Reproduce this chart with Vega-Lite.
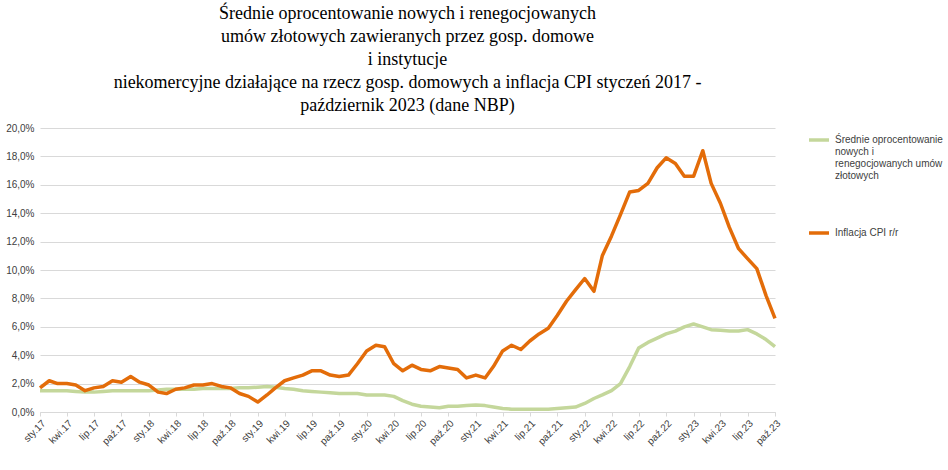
{
"$schema":"https://vega.github.io/schema/vega-lite/v6.json",
"width":735,"height":284,
"padding":{"left":5,"top":5,"right":5,"bottom":5},
"config":{"view":{"stroke":null},"font":"Liberation Sans"},
"title":{"text":["Średnie oprocentowanie nowych i renegocjowanych","umów złotowych zawieranych przez gosp. domowe","i instytucje","niekomercyjne działające na rzecz gosp. domowych a inflacja CPI styczeń 2017 -","październik 2023 (dane NBP)"],"font":"Liberation Serif","fontSize":18,"fontWeight":"normal","color":"#000","anchor":"middle","lineHeight":23,"offset":8},
"data":{"values":[
{"d":"2017-01-01","cpi":1.7,"r":1.5},{"d":"2017-02-01","cpi":2.2,"r":1.5},{"d":"2017-03-01","cpi":2.0,"r":1.5},{"d":"2017-04-01","cpi":2.0,"r":1.5},{"d":"2017-05-01","cpi":1.9,"r":1.45},{"d":"2017-06-01","cpi":1.5,"r":1.4},{"d":"2017-07-01","cpi":1.7,"r":1.4},{"d":"2017-08-01","cpi":1.8,"r":1.45},{"d":"2017-09-01","cpi":2.2,"r":1.5},{"d":"2017-10-01","cpi":2.1,"r":1.5},{"d":"2017-11-01","cpi":2.5,"r":1.5},{"d":"2017-12-01","cpi":2.1,"r":1.5},
{"d":"2018-01-01","cpi":1.9,"r":1.5},{"d":"2018-02-01","cpi":1.4,"r":1.55},{"d":"2018-03-01","cpi":1.3,"r":1.6},{"d":"2018-04-01","cpi":1.6,"r":1.6},{"d":"2018-05-01","cpi":1.7,"r":1.6},{"d":"2018-06-01","cpi":1.9,"r":1.6},{"d":"2018-07-01","cpi":1.9,"r":1.65},{"d":"2018-08-01","cpi":2.0,"r":1.65},{"d":"2018-09-01","cpi":1.8,"r":1.65},{"d":"2018-10-01","cpi":1.7,"r":1.65},{"d":"2018-11-01","cpi":1.3,"r":1.7},{"d":"2018-12-01","cpi":1.1,"r":1.7},
{"d":"2019-01-01","cpi":0.7,"r":1.75},{"d":"2019-02-01","cpi":1.2,"r":1.8},{"d":"2019-03-01","cpi":1.7,"r":1.75},{"d":"2019-04-01","cpi":2.2,"r":1.65},{"d":"2019-05-01","cpi":2.4,"r":1.6},{"d":"2019-06-01","cpi":2.6,"r":1.5},{"d":"2019-07-01","cpi":2.9,"r":1.45},{"d":"2019-08-01","cpi":2.9,"r":1.4},{"d":"2019-09-01","cpi":2.6,"r":1.35},{"d":"2019-10-01","cpi":2.5,"r":1.3},{"d":"2019-11-01","cpi":2.6,"r":1.3},{"d":"2019-12-01","cpi":3.4,"r":1.3},
{"d":"2020-01-01","cpi":4.3,"r":1.2},{"d":"2020-02-01","cpi":4.7,"r":1.2},{"d":"2020-03-01","cpi":4.6,"r":1.2},{"d":"2020-04-01","cpi":3.4,"r":1.1},{"d":"2020-05-01","cpi":2.9,"r":0.8},{"d":"2020-06-01","cpi":3.3,"r":0.55},{"d":"2020-07-01","cpi":3.0,"r":0.4},{"d":"2020-08-01","cpi":2.9,"r":0.35},{"d":"2020-09-01","cpi":3.2,"r":0.3},{"d":"2020-10-01","cpi":3.1,"r":0.4},{"d":"2020-11-01","cpi":3.0,"r":0.4},{"d":"2020-12-01","cpi":2.4,"r":0.45},
{"d":"2021-01-01","cpi":2.6,"r":0.5},{"d":"2021-02-01","cpi":2.4,"r":0.45},{"d":"2021-03-01","cpi":3.2,"r":0.35},{"d":"2021-04-01","cpi":4.3,"r":0.25},{"d":"2021-05-01","cpi":4.7,"r":0.2},{"d":"2021-06-01","cpi":4.4,"r":0.2},{"d":"2021-07-01","cpi":5.0,"r":0.2},{"d":"2021-08-01","cpi":5.5,"r":0.2},{"d":"2021-09-01","cpi":5.9,"r":0.2},{"d":"2021-10-01","cpi":6.8,"r":0.25},{"d":"2021-11-01","cpi":7.8,"r":0.3},{"d":"2021-12-01","cpi":8.6,"r":0.35},
{"d":"2022-01-01","cpi":9.4,"r":0.6},{"d":"2022-02-01","cpi":8.5,"r":0.95},{"d":"2022-03-01","cpi":11.0,"r":1.2},{"d":"2022-04-01","cpi":12.4,"r":1.5},{"d":"2022-05-01","cpi":13.9,"r":2.0},{"d":"2022-06-01","cpi":15.5,"r":3.2},{"d":"2022-07-01","cpi":15.6,"r":4.5},{"d":"2022-08-01","cpi":16.1,"r":4.9},{"d":"2022-09-01","cpi":17.2,"r":5.2},{"d":"2022-10-01","cpi":17.9,"r":5.5},{"d":"2022-11-01","cpi":17.5,"r":5.7},{"d":"2022-12-01","cpi":16.6,"r":6.0},
{"d":"2023-01-01","cpi":16.6,"r":6.2},{"d":"2023-02-01","cpi":18.4,"r":6.0},{"d":"2023-03-01","cpi":16.1,"r":5.8},{"d":"2023-04-01","cpi":14.7,"r":5.75},{"d":"2023-05-01","cpi":13.0,"r":5.7},{"d":"2023-06-01","cpi":11.5,"r":5.7},{"d":"2023-07-01","cpi":10.8,"r":5.8},{"d":"2023-08-01","cpi":10.1,"r":5.5},{"d":"2023-09-01","cpi":8.2,"r":5.1},{"d":"2023-10-01","cpi":6.6,"r":4.6}
]},
"transform":[{"fold":["r","cpi"],"as":["s","v"]}],
"mark":{"type":"line","strokeWidth":3.5,"strokeJoin":"round"},
"encoding":{
"x":{"field":"d","type":"temporal","scale":{"type":"utc","nice":false},
 "axis":{"title":null,"grid":false,"domainColor":"#d9d9d9","tickColor":"#d9d9d9","tickSize":4,"labelAngle":-45,"labelFontSize":10,"labelColor":"#404040","labelAlign":"right","labelBaseline":"top","labelOverlap":false,"tickCount":{"interval":"month","step":3},
 "labelExpr":"(utcmonth(datum.value)==0?'sty':utcmonth(datum.value)==3?'kwi':utcmonth(datum.value)==6?'lip':utcmonth(datum.value)==9?'paź':'') + '.' + utcFormat(datum.value,'%y')"}},
"y":{"field":"v","type":"quantitative","scale":{"domain":[0,20],"nice":false},
 "axis":{"title":null,"values":[0,2,4,6,8,10,12,14,16,18,20],"domain":false,"ticks":false,"gridColor":"#d9d9d9","labelFontSize":10,"labelColor":"#404040","labelPadding":6,"labelExpr":"replace(format(datum.value,'.1f'),'.',',')+'%'"}},
"color":{"field":"s","type":"nominal","scale":{"domain":["r","cpi"],"range":["#c4d79b","#e36c09"]},
 "legend":{"title":null,"orient":"right","offset":30,"symbolType":"stroke","symbolStrokeWidth":3.5,"symbolSize":400,"labelFontSize":10,"labelColor":"#404040","rowPadding":40,"labelLimit":200,
 "labelExpr":"datum.value=='r' ? ['Średnie oprocentowanie','nowych i','renegocjowanych umów','złotowych'] : 'Inflacja CPI r/r'"}}
}
}
